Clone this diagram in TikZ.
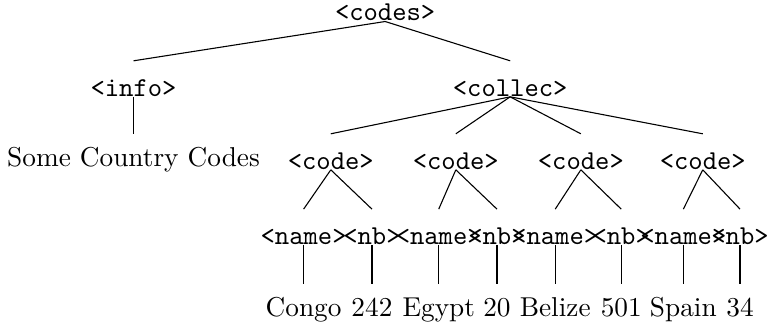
\documentclass[tikz,border=0pt]{standalone}
\usepackage{tikz}
\usetikzlibrary{arrows, positioning, calc}
\tikzset{
black,
text=black,
tag/.style={%
    inner sep=0pt,
    text height=12.8pt,
    text depth=0pt,
    anchor=base,
},
}

\begin{document}
\begin{tikzpicture}[-, leaf/.style={tag, text height=12pt}]
	\useasboundingbox (-4.96,-3.92) rectangle (4.93,0.27);

	\node[tag] at (0,0) (0c) {\texttt{<codes>}};

	\node[tag] at (-3.24,-0.97) (1i) {\texttt{<info>}};
	\node[tag] at (1.61,-0.97) (1c) {\texttt{<collec>}};

	\node[leaf] at (-3.24,-1.88) (2s) {Some Country Codes};
	\node[tag] at (-0.70,-1.91) (2c1) {\texttt{<code>}};
	\node[tag] at (0.91,-1.91) (2c2) {\texttt{<code>}};
	\node[tag] at (2.52,-1.91) (2c3) {\texttt{<code>}};
	\node[tag] at (4.09,-1.91) (2c4) {\texttt{<code>}};

	\node[tag] at (-1.05,-2.88) (3n1) {\texttt{<name>}};
	\node[tag] at (-0.17,-2.88) (3b1) {\texttt{<nb>}};
	\node[tag] at (0.69,-2.88) (3n2) {\texttt{<name>}};
	\node[tag] at (1.44,-2.88) (3b2) {\texttt{<nb>}};
	\node[tag] at (2.19,-2.88) (3n3) {\texttt{<name>}};
	\node[tag] at (3.04,-2.88) (3b3) {\texttt{<nb>}};
	\node[tag] at (3.84,-2.88) (3n4) {\texttt{<name>}};
	\node[tag] at (4.57,-2.88) (3b4) {\texttt{<nb>}};

	\node[leaf] at (-1.05,-3.81) (4n1) {Congo};
	\node[leaf] at (-0.17,-3.81) (4b1) {242};
	\node[leaf] at (0.69,-3.81) (4n2) {Egypt};
	\node[leaf] at (1.44,-3.81) (4b2) {20};
	\node[leaf] at (2.19,-3.81) (4n3) {Belize};
	\node[leaf] at (3.04,-3.81) (4b3) {501};
	\node[leaf] at (3.84,-3.81) (4n4) {Spain};
	\node[leaf] at (4.57,-3.81) (4b4) {34};

	\path (0c.south) edge (1i.north);
	\path (0c.south) edge (1c.north);

	\path (1i.south) edge (2s.north);
	\path (1c.south) edge (2c1.north);
	\path (1c.south) edge (2c2.north);
	\path (1c.south) edge (2c3.north);
	\path (1c.south) edge (2c4.north);

	\path (2c1.south) edge (3n1.north);
	\path (2c1.south) edge (3b1.north);
	\path (2c2.south) edge (3n2.north);
	\path (2c2.south) edge (3b2.north);
	\path (2c3.south) edge (3n3.north);
	\path (2c3.south) edge (3b3.north);
	\path (2c4.south) edge (3n4.north);
	\path (2c4.south) edge (3b4.north);

	\path (3n1.south) edge (4n1.north);
	\path (3b1.south) edge (4b1.north);
	\path (3n2.south) edge (4n2.north);
	\path (3b2.south) edge (4b2.north);
	\path (3n3.south) edge (4n3.north);
	\path (3b3.south) edge (4b3.north);
	\path (3n4.south) edge (4n4.north);
	\path (3b4.south) edge (4b4.north);
\end{tikzpicture}
\end{document}
